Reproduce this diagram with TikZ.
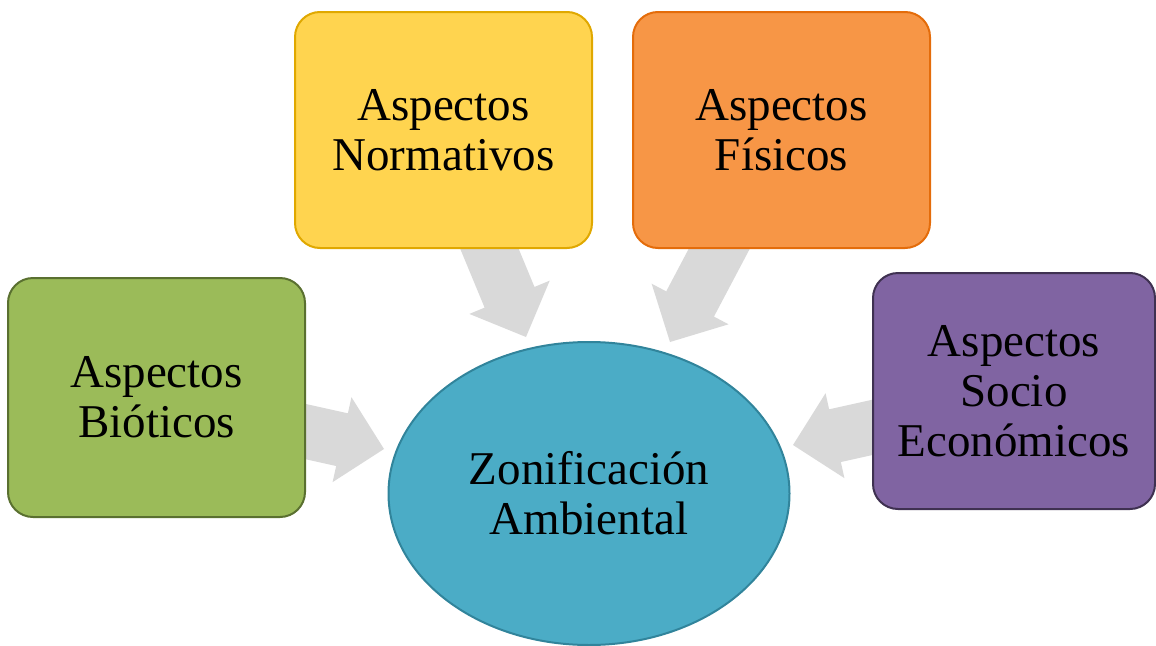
\documentclass[tikz,border=0pt]{standalone}
\usepackage{fontspec}
\setmainfont{Liberation Serif}
\usetikzlibrary{calc,shapes.geometric,backgrounds}

\definecolor{yelFill}{HTML}{FFD44F}
\definecolor{yelLine}{HTML}{E0A800}
\definecolor{oraFill}{HTML}{F79646}
\definecolor{oraLine}{HTML}{E46C0A}
\definecolor{grnFill}{HTML}{9BBB59}
\definecolor{grnLine}{HTML}{5A7030}
\definecolor{purFill}{HTML}{8064A2}
\definecolor{purLine}{HTML}{3F3151}
\definecolor{cyaFill}{HTML}{4BACC6}
\definecolor{cyaLine}{HTML}{31849B}
\definecolor{arrGray}{HTML}{D9D9D9}

% wide block arrow from #1 (tail) to #2 (tip)
\newcommand{\blockarr}[2]{%
  \coordinate (hb) at ($(#2)!43pt!(#1)$);
  \fill[arrGray] ($(#1)!27pt!90:(#2)$) -- ($(hb)!27pt!-90:(#1)$)
    -- ($(hb)!43.5pt!-90:(#1)$) -- (#2) -- ($(hb)!43.5pt!90:(#1)$)
    -- ($(hb)!27pt!90:(#1)$) -- ($(#1)!27pt!-90:(#2)$) -- cycle;}

\tikzset{
  txt/.style={align=center, font=\fontsize{47}{50}\selectfont, text=black, inner sep=0pt},
  aspect/.style={txt, rectangle, rounded corners=25pt, line width=2pt, draw=#1Line, fill=#1Fill},
  hub/.style={txt, ellipse, line width=2pt, draw=cyaLine, fill=cyaFill,
    minimum width=401pt, minimum height=303pt}
}

\begin{document}
\begin{tikzpicture}[x=1pt,y=-1pt]
  \useasboundingbox (0,0) rectangle (1156,645);

  \node[aspect=yel, minimum width=297pt, minimum height=236pt] (norm) at (443.5,130)
    {Aspectos\\Normativos};
  \node[aspect=ora, minimum width=297pt, minimum height=236pt] (fis) at (781.5,130)
    {Aspectos\\Físicos};
  \node[aspect=grn, minimum width=297pt, minimum height=239pt] (bio) at (156.5,397.5)
    {Aspectos\\Bióticos};
  \node[aspect=pur, minimum width=282pt, minimum height=236pt] (soc) at (1014,391)
    {Aspectos\\Socio\\Económicos};
  \node[hub] (zon) at (589,493.5) {Zonificación\\Ambiental};

  % arrow ends: tails sit under the boxes, tips stop short of the ellipse
  \coordinate (n-tail) at ($(norm)+(36.5,96)$);
  \coordinate (n-tip)  at ($(zon)+(-63,-156.5)$);
  \coordinate (f-tail) at ($(fis)+(-55.5,106)$);
  \coordinate (f-tip)  at ($(zon)+(81,-151.5)$);
  \coordinate (b-tail) at ($(bio)+(110.5,25.5)$);
  \coordinate (b-tip)  at ($(zon)+(-205,-44.5)$);
  \coordinate (s-tail) at ($(soc)+(-104,28)$);
  \coordinate (s-tip)  at ($(zon)+(204,-48.5)$);

  \begin{pgfonlayer}{background}
    \blockarr{n-tail}{n-tip}
    \blockarr{f-tail}{f-tip}
    \blockarr{b-tail}{b-tip}
    \blockarr{s-tail}{s-tip}
  \end{pgfonlayer}
\end{tikzpicture}
\end{document}
